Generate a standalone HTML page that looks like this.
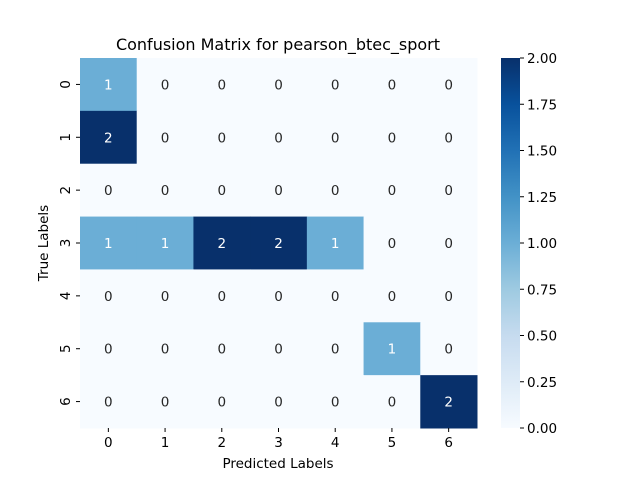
<!DOCTYPE html><html><head><style>body{margin:0;background:#fff}svg text{font-family:"DejaVu Sans","Liberation Sans",sans-serif}</style></head><body>
<svg id="c" width="640" height="480">
<defs><linearGradient id="g" x1="0" y1="1" x2="0" y2="0">
<stop offset="0" stop-color="#f7fbff"/><stop offset="0.125" stop-color="#deebf7"/><stop offset="0.25" stop-color="#c6dbef"/><stop offset="0.375" stop-color="#9ecae1"/><stop offset="0.5" stop-color="#6baed6"/><stop offset="0.625" stop-color="#4292c6"/><stop offset="0.75" stop-color="#2171b5"/><stop offset="0.875" stop-color="#08519c"/><stop offset="1" stop-color="#08306b"/></linearGradient></defs>
<text x="278" y="50" text-anchor="middle" font-size="16">Confusion Matrix for pearson_btec_sport</text>
<text x="278" y="468" text-anchor="middle" font-size="13.5">Predicted Labels</text>
<text transform="translate(48,243) rotate(-90)" text-anchor="middle" font-size="13.5">True Labels</text>
<g id="cells"></g>
<rect x="501" y="58" width="19" height="370" fill="url(#g)"/>
<g id="cb"></g>
</svg>
<script>
const labels=["0","1","2","3","4","5","6"];
const matrix=[[1,0,0,0,0,0,0],[2,0,0,0,0,0,0],[0,0,0,0,0,0,0],[1,1,2,2,1,0,0],[0,0,0,0,0,0,0],[0,0,0,0,0,1,0],[0,0,0,0,0,0,2]];
const cbTicks=["0.00","0.25","0.50","0.75","1.00","1.25","1.50","1.75","2.00"];
const vmax=2;
const ns="http://www.w3.org/2000/svg";
const X0=80,Y0=58,W=397,H=370,n=labels.length,cw=W/n,ch=H/n;
const stops=[[0,[247,251,255]],[.125,[222,235,247]],[.25,[198,219,239]],[.375,[158,202,225]],[.5,[107,174,214]],[.625,[66,146,198]],[.75,[33,113,181]],[.875,[8,81,156]],[1,[8,48,107]]];
function col(t){for(let i=1;i<stops.length;i++){if(t<=stops[i][0]){const a=stops[i-1],b=stops[i],f=(t-a[0])/(b[0]-a[0]);return "rgb("+a[1].map((v,k)=>Math.round(v+(b[1][k]-v)*f)).join(",")+")";}}return "rgb(8,48,107)";}
function mk(t,a,p){const e=document.createElementNS(ns,t);for(const k in a)e.setAttribute(k,a[k]);p.appendChild(e);return e;}
const g=document.getElementById("cells"),svg=document.getElementById("c");
matrix.forEach((row,i)=>row.forEach((v,j)=>{
const r=mk("rect",{x:X0+j*cw,y:Y0+i*ch,width:cw+0.5,height:ch+0.5,fill:col(v/vmax)},g);


const t=mk("text",{x:X0+(j+.5)*cw,y:Y0+(i+.5)*ch+5,"text-anchor":"middle","font-size":"13.5",fill:v/vmax>0.4?"#fff":"#262626"},g);
t.textContent=v;


}));
labels.forEach((l,k)=>{
const x=X0+(k+.5)*cw;
mk("line",{x1:x,x2:x,y1:428,y2:432,stroke:"#000"},svg);
const t=mk("text",{x:x,y:447,"text-anchor":"middle","font-size":"13.5"},svg);t.textContent=l;


const y=Y0+(k+.5)*ch;
mk("line",{x1:76,x2:80,y1:y,y2:y,stroke:"#000"},svg);
const u=mk("text",{transform:"translate(70,"+y+") rotate(-90)","text-anchor":"middle","font-size":"13.5"},svg);u.textContent=l;


});
const cb=document.getElementById("cb");
cbTicks.forEach(s=>{
const y=428-parseFloat(s)/vmax*370;
mk("line",{x1:520,x2:524,y1:y,y2:y,stroke:"#000"},cb);
const t=mk("text",{x:527,y:y+5,"font-size":"13.5"},cb);t.textContent=s;


});
</script></body></html>
